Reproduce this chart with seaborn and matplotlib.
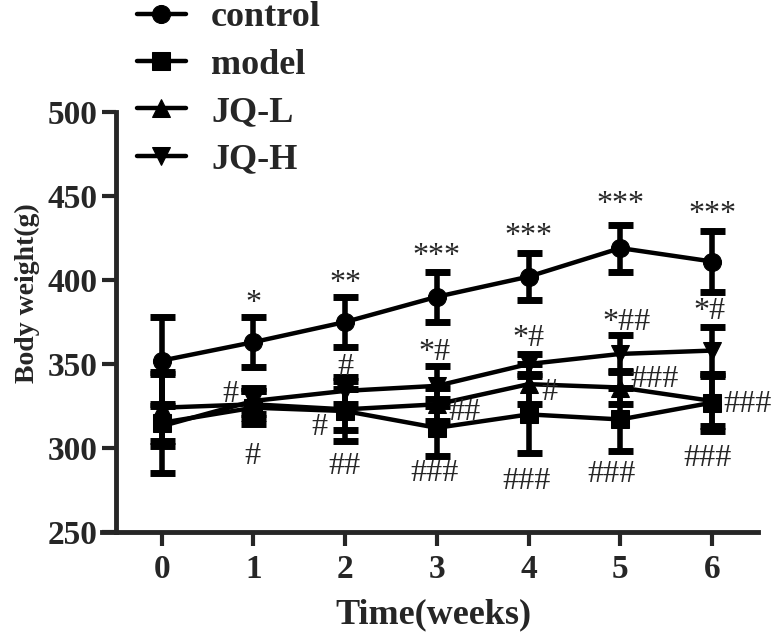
import pandas as pd
import numpy as np
import seaborn as sns
import matplotlib.pyplot as plt

# data
weeks = [0, 1, 2, 3, 4, 5, 6]
groups = ['control', 'model', 'JQ-L', 'JQ-H']
control_mean = [352, 363, 375, 390, 402, 419, 411]
control_sd = [26, 15, 15, 15, 14, 14, 18]
model_mean = [315, 324, 322, 312, 320, 317, 327]
model_sd = [30, 10, 18, 17, 23, 19, 17]
jql_mean = [324, 326, 323, 326, 338, 336, 328]
jql_sd = [20, 8, 12, 10, 12, 10, 15]
jqh_mean = [313, 328, 334, 337, 350, 356, 358]
jqh_sd = [12, 8, 8, 12, 6, 11, 14]

# significance marks: (week, value, text)
stars = [(1, 386, '*'), (2, 398, '**'), (3, 414, '***'), (4, 426, '***'),
         (5, 445, '***'), (6, 439, '***'),
         (2.97, 357, '*#'), (4.0, 365, '*#'), (5.07, 375, '*##'), (5.97, 381, '*#')]
hashes = [(0.75, 332, '#'), (0.99, 295, '#'), (2.0, 348, '#'), (1.72, 312, '#'),
          (1.99, 289, '##'), (3.3, 321, '##'), (2.97, 285, '###'),
          (4.23, 333, '#'), (3.98, 280, '###'), (5.37, 341, '###'),
          (4.9, 284, '###'), (6.39, 326, '###'), (5.95, 294, '###')]

means = [control_mean, model_mean, jql_mean, jqh_mean]
sds = [control_sd, model_sd, jql_sd, jqh_sd]
df = pd.DataFrame({
    'Week': weeks * 4,
    'Group': np.repeat(groups, len(weeks)),
    'Weight': np.concatenate(means),
    'SD': np.concatenate(sds),
})

sns.set_style('ticks')
plt.rcParams['font.family'] = ['Liberation Serif', 'DejaVu Serif']
plt.rcParams['font.weight'] = 'bold'

fig = plt.figure(figsize=(7.78, 6.36), dpi=100)
ax = fig.add_axes([102 / 778, 1 - 532 / 636, 656 / 778, 420 / 636])

markers = {'control': 'o', 'model': 's', 'JQ-L': '^', 'JQ-H': 'v'}
for g, m, s in zip(groups, means, sds):
    ax.errorbar(weeks, m, yerr=s, fmt='none', ecolor='black', elinewidth=4,
                capsize=9, capthick=5, zorder=2)
sns.lineplot(data=df, x='Week', y='Weight', hue='Group', style='Group',
             palette=['black'] * 4, markers=markers, dashes=False,
             markersize=13, markeredgecolor='black', linewidth=3.2, ax=ax, zorder=3)

for x, y, t in stars + hashes:
    ax.text(x, y, t, ha='center', va='center', fontsize=23,
            fontweight='normal', family=['Liberation Serif'])

ax.set_xlim(-0.65, 6.5)
ax.set_ylim(250, 500)
ax.set_xticks(weeks)
ax.set_yticks([250, 300, 350, 400, 450, 500])
ax.tick_params(width=3, length=10, labelsize=24, direction='out', pad=3)
ax.tick_params(axis='x', pad=6)
for lab in ax.get_xticklabels() + ax.get_yticklabels():
    lab.set_fontweight('bold')
sns.despine(ax=ax)
ax.spines['left'].set_position(('data', -0.5))
for sp in ['left', 'bottom']:
    ax.spines[sp].set_linewidth(3.5)
ax.set_xlabel('Time(weeks)', fontsize=26, fontweight='bold', va='top')
ax.set_ylabel('Body weight(g)', fontsize=20, fontweight='bold')
ax.xaxis.set_label_coords(433 / 778, 1 - 598 / 636, transform=fig.transFigure)
ax.yaxis.set_label_coords(40 / 778, 1 - 293 / 636, transform=fig.transFigure)

handles, labels = ax.get_legend_handles_labels()
ax.legend(handles, labels, loc='upper left', bbox_to_anchor=(119 / 778, 1.027),
          bbox_transform=fig.transFigure, frameon=False, borderpad=0,
          handlelength=1.35, labelspacing=0.39, handletextpad=0.7,
          prop={'weight': 'bold', 'size': 26})

fig.savefig('out.png', dpi=100)
